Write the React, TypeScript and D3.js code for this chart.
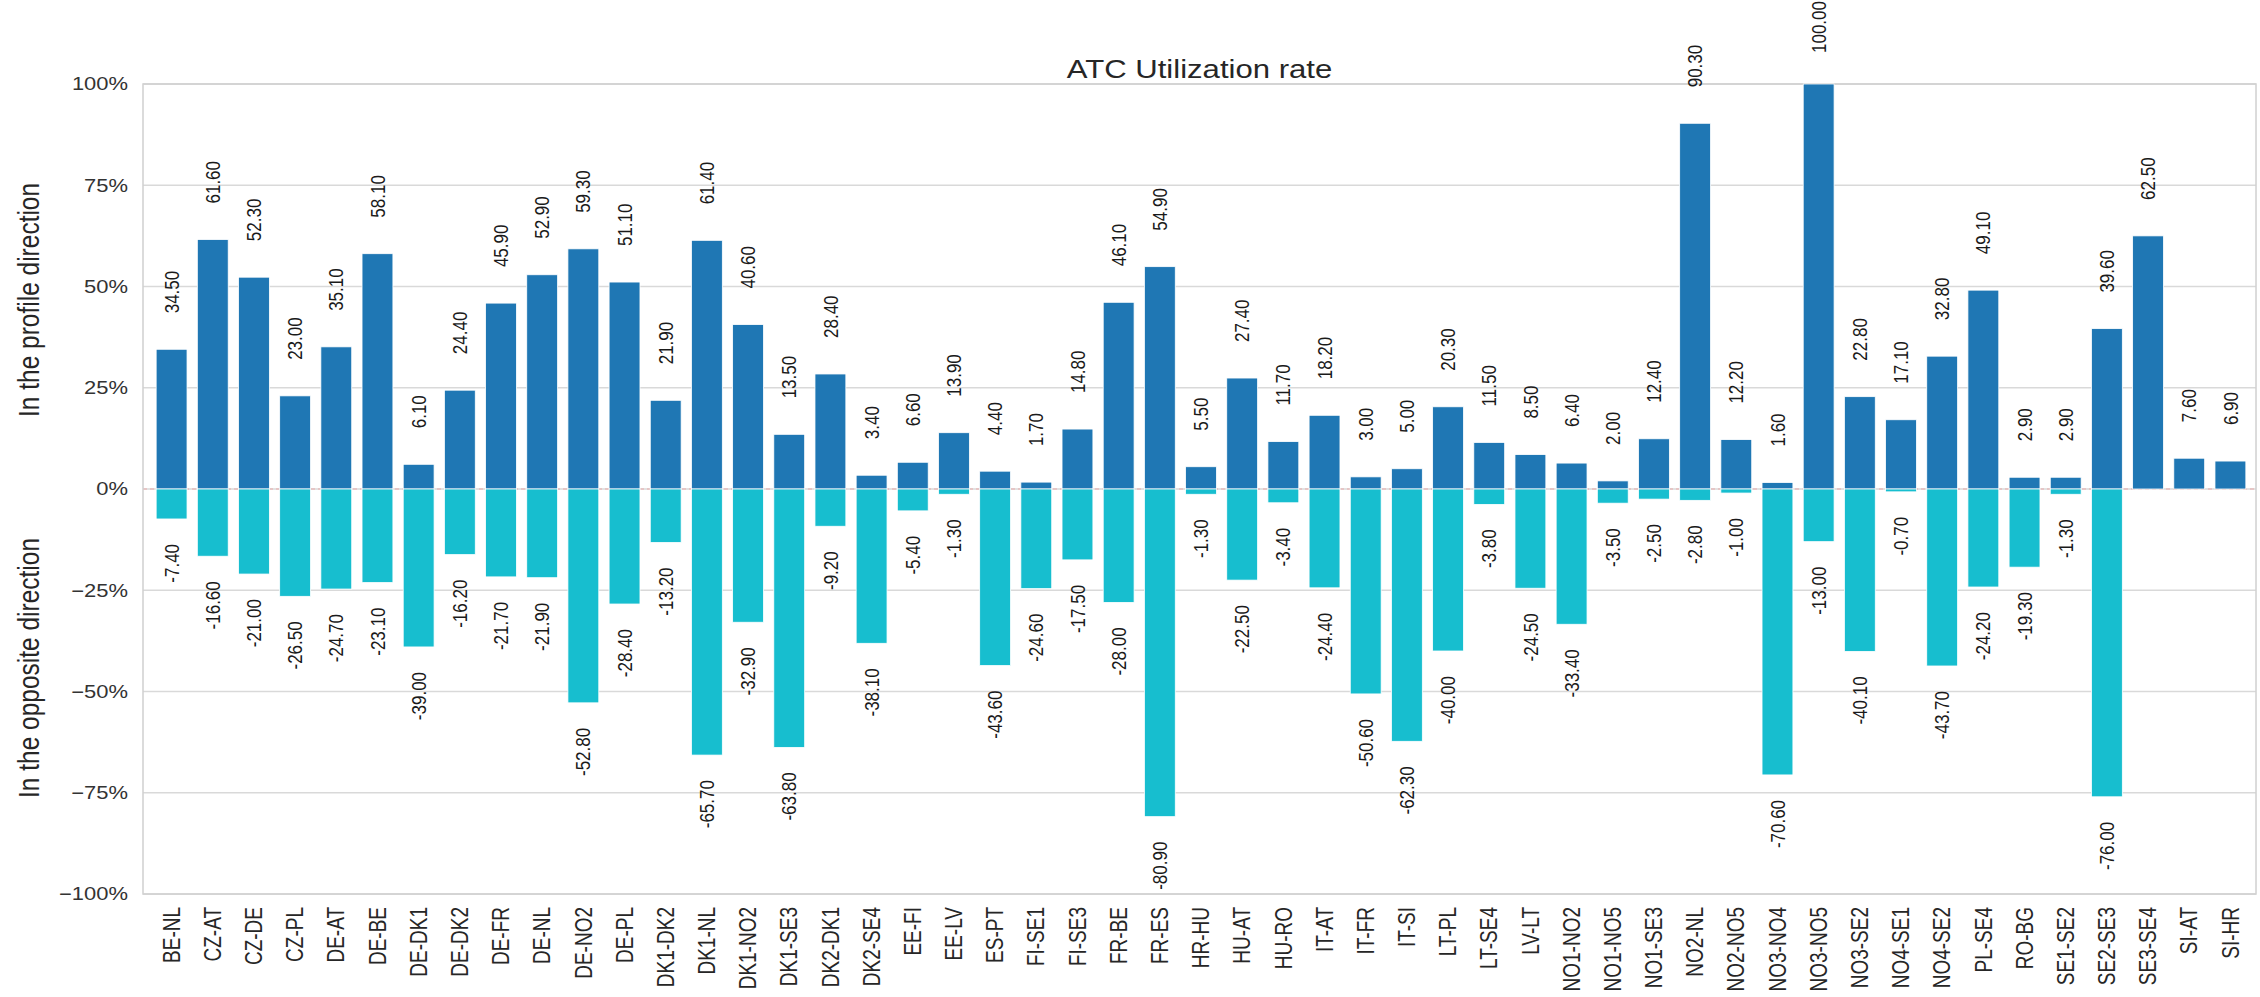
import React from "react";
import * as d3 from "d3";

const categories = [
  "BE-NL", "CZ-AT", "CZ-DE", "CZ-PL", "DE-AT", "DE-BE", "DE-DK1", "DE-DK2", "DE-FR", "DE-NL",
  "DE-NO2", "DE-PL", "DK1-DK2", "DK1-NL", "DK1-NO2", "DK1-SE3", "DK2-DK1", "DK2-SE4", "EE-FI", "EE-LV",
  "ES-PT", "FI-SE1", "FI-SE3", "FR-BE", "FR-ES", "HR-HU", "HU-AT", "HU-RO", "IT-AT", "IT-FR",
  "IT-SI", "LT-PL", "LT-SE4", "LV-LT", "NO1-NO2", "NO1-NO5", "NO1-SE3", "NO2-NL", "NO2-NO5", "NO3-NO4",
  "NO3-NO5", "NO3-SE2", "NO4-SE1", "NO4-SE2", "PL-SE4", "RO-BG", "SE1-SE2", "SE2-SE3", "SE3-SE4", "SI-AT",
  "SI-HR",
];

const profileValues: number[] = [
  34.5, 61.6, 52.3, 23.0, 35.1, 58.1, 6.1, 24.4, 45.9, 52.9,
  59.3, 51.1, 21.9, 61.4, 40.6, 13.5, 28.4, 3.4, 6.6, 13.9,
  4.4, 1.7, 14.8, 46.1, 54.9, 5.5, 27.4, 11.7, 18.2, 3.0,
  5.0, 20.3, 11.5, 8.5, 6.4, 2.0, 12.4, 90.3, 12.2, 1.6,
  100.0, 22.8, 17.1, 32.8, 49.1, 2.9, 2.9, 39.6, 62.5, 7.6,
  6.9,
];

const oppositeValues: (number | null)[] = [
  -7.4, -16.6, -21.0, -26.5, -24.7, -23.1, -39.0, -16.2, -21.7, -21.9,
  -52.8, -28.4, -13.2, -65.7, -32.9, -63.8, -9.2, -38.1, -5.4, -1.3,
  -43.6, -24.6, -17.5, -28.0, -80.9, -1.3, -22.5, -3.4, -24.4, -50.6,
  -62.3, -40.0, -3.8, -24.5, -33.4, -3.5, -2.5, -2.8, -1.0, -70.6,
  -13.0, -40.1, -0.7, -43.7, -24.2, -19.3, -1.3, -76.0, null, null,
  null,
];

const yTicks = [-100, -75, -50, -25, 0, 25, 50, 75, 100];

const title = "ATC Utilization rate";
const yLabelTop = "In the profile direction";
const yLabelBottom = "In the opposite direction";

const W = 2260;
const H = 997;
const FONT = "'Liberation Sans', Arial, Helvetica, sans-serif";
const SX = 1.22; // horizontal stretch of the original picture

const frame = { left: 143, right: 2256, top: 84, bottom: 894 };

export default function App() {
  const x = d3
    .scaleBand<string>()
    .domain(categories)
    .range([151, 2251])
    .paddingInner(0.25)
    .paddingOuter(0.125);
  const y = d3.scaleLinear().domain([-100, 100]).range([frame.bottom, frame.top]);

  const tickFmt = (v: number) => (v < 0 ? "\u2212" + Math.abs(v) : String(v)) + "%";
  const bw = x.bandwidth();

  return (
    <svg
      width={W}
      height={H}
      style={{ position: "absolute", left: 0, top: 0, display: "block", background: "#fff" }}
      fontFamily={FONT}
    >
      <rect x={0} y={0} width={W} height={H} fill="#fff" />
      {/* grid */}
      {yTicks.map((t) => (
        <line
          key={"g" + t}
          x1={frame.left}
          x2={frame.right}
          y1={y(t)}
          y2={y(t)}
          stroke="#d9d9d9"
          strokeWidth={1.5}
        />
      ))}
      {/* zero line */}
      <line
        x1={frame.left}
        x2={frame.right}
        y1={y(0)}
        y2={y(0)}
        stroke="#e9a9a9"
        strokeWidth={1}
        strokeDasharray="4,3"
      />
      {/* frame */}
      <rect
        x={frame.left}
        y={frame.top}
        width={frame.right - frame.left}
        height={frame.bottom - frame.top}
        fill="none"
        stroke="#d0d0d0"
        strokeWidth={1.5}
      />
      {/* bars */}
      {categories.map((c, i) => {
        const p = profileValues[i];
        const o = oppositeValues[i];
        const x0 = x(c)!;
        return (
          <g key={c}>
            <rect x={x0} y={y(p)} width={bw} height={y(0) - y(p)} fill="#1f77b4" stroke="#fff" strokeWidth={0.8} />
            {o !== null && (
              <rect x={x0} y={y(0)} width={bw} height={y(o) - y(0)} fill="#17becf" stroke="#fff" strokeWidth={0.8} />
            )}
          </g>
        );
      })}
      {/* value labels */}
      {categories.map((c, i) => {
        const p = profileValues[i];
        const o = oppositeValues[i];
        const cx = x(c)! + bw / 2;
        const startY = Math.max(y(p) - 36, 53);
        return (
          <g key={"l" + c} fontSize={17} fill="#1a1a1a">
            <text
              transform={`translate(${cx},${startY}) rotate(-90) scale(1,${SX})`}
              textAnchor="start"
              dominantBaseline="central"
            >
              {p.toFixed(2)}
            </text>
            {o !== null && (
              <text
                transform={`translate(${cx},${y(o) + 25}) rotate(-90) scale(1,${SX})`}
                textAnchor="end"
                dominantBaseline="central"
              >
                {o.toFixed(2)}
              </text>
            )}
          </g>
        );
      })}
      {/* y tick labels */}
      {yTicks.map((t) => (
        <text
          key={"t" + t}
          transform={`translate(128,${y(t)}) scale(${SX},1)`}
          textAnchor="end"
          dominantBaseline="central"
          fontSize={18}
          fill="#333"
        >
          {tickFmt(t)}
        </text>
      ))}
      {/* x tick labels */}
      {categories.map((c) => (
        <text
          key={"x" + c}
          transform={`translate(${x(c)! + bw / 2},${frame.bottom + 13}) rotate(-90) scale(1,${SX})`}
          textAnchor="end"
          dominantBaseline="central"
          fontSize={19}
          fill="#262626"
        >
          {c}
        </text>
      ))}
      {/* y axis labels */}
      <text
        transform={`translate(29,417) rotate(-90) scale(1,${SX})`}
        textAnchor="start"
        dominantBaseline="central"
        fontSize={24.5}
        fill="#262626"
      >
        {yLabelTop}
      </text>
      <text
        transform={`translate(29,798) rotate(-90) scale(1,${SX})`}
        textAnchor="start"
        dominantBaseline="central"
        fontSize={24.5}
        fill="#262626"
      >
        {yLabelBottom}
      </text>
      {/* title */}
      <text
        transform={`translate(${(frame.left + frame.right) / 2},78) scale(${SX},1)`}
        textAnchor="middle"
        fontSize={25.5}
        fill="#262626"
      >
        {title}
      </text>
    </svg>
  );
}
